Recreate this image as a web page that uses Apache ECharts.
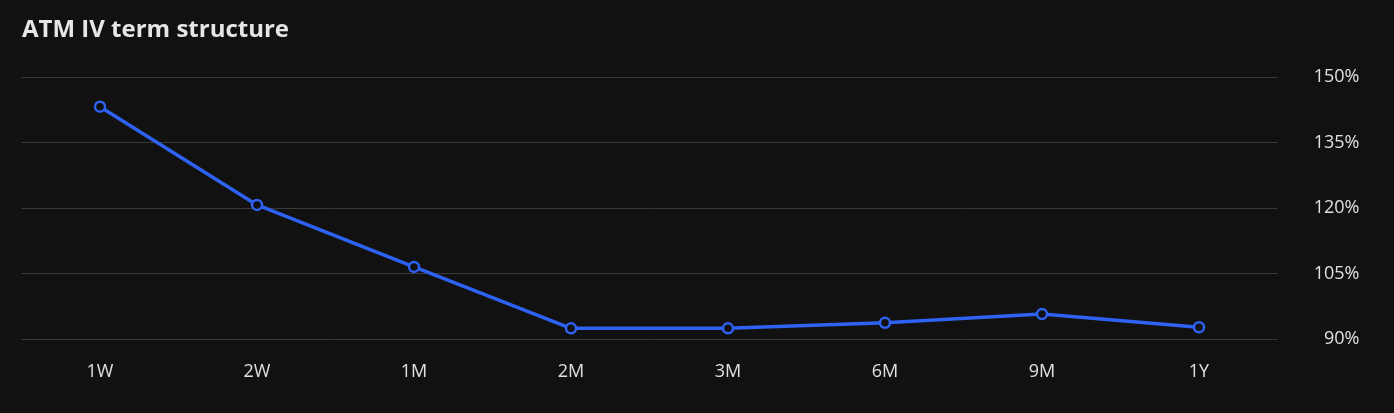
<!DOCTYPE html>
<html><head><meta charset="utf-8">
<script src="https://cdn.jsdelivr.net/npm/echarts@6/dist/echarts.min.js"></script>
<style>html,body{margin:0;padding:0;background:#111111;}#c{width:1394px;height:413px;}</style>
</head><body><div id="c"></div>
<script>
const categories = ['1W','2W','1M','2M','3M','6M','9M','1Y'];
const ivValues = [143.2, 120.7, 106.5, 92.45, 92.45, 93.7, 95.7, 92.7];
const yMin = 90, yMax = 150, yStep = 15;

const chart = echarts.init(document.getElementById('c'));
chart.setOption({
  backgroundColor: '#111111',
  animation: false,
  title: {
    text: 'ATM IV term structure',
    left: 17, top: 13,
    textStyle: {color: '#e6e6e6', fontSize: 24, fontWeight: 'bold', fontFamily: 'Open Sans'}
  },
  grid: {left: 21.5, right: 116.5, top: 77, bottom: 74, containLabel: false},
  xAxis: {
    type: 'category', data: categories, boundaryGap: true,
    axisLine: {show: false}, axisTick: {show: false},
    axisLabel: {color: '#e0e0e0', fontSize: 18, margin: 24, fontFamily: 'Open Sans'}
  },
  yAxis: {
    type: 'value', position: 'right', min: yMin, max: yMax, interval: yStep,
    axisLine: {show: false}, axisTick: {show: false},
    splitLine: {lineStyle: {color: '#3a3a3a', width: 1}},
    axisLabel: {color: '#e0e0e0', fontSize: 18, margin: 82, align: 'right', fontFamily: 'Open Sans',
      padding: [2, 0, 0, 0], formatter: v => v + '%'}
  },
  series: [{
    type: 'line', data: ivValues,
    lineStyle: {color: '#2e62f2', width: 3.5},
    itemStyle: {color: '#111111', borderColor: '#2e62f2', borderWidth: 2.5},
    symbol: 'circle', symbolSize: 10, showSymbol: true
  }]
});
</script></body></html>
